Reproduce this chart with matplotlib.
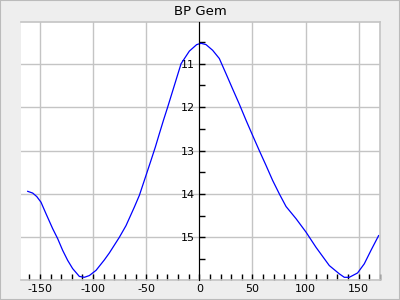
import matplotlib
matplotlib.use('Agg')
import matplotlib.pyplot as plt
from matplotlib.ticker import MultipleLocator

# Light curve values
phase = [-161.5, -156.8, -153, -149, -144.2, -138, -133.3, -128.6, -123.9, -119.2,
         -112.9, -108.2, -103.5, -97.2, -89.4, -84.7, -75.3, -69, -61.1, -56.4,
         -49.6, -45.4, -41.4, -37.6, -33.6, -29.8, -23.5, -17.2, -9.4, -2.5,
         1.6, 6.3, 12.5, 18.8, 25.1, 31.3, 37.6, 43.9, 50.1, 56.4,
         62.7, 69, 75.3, 81.6, 91, 100.4, 109.8, 122.3, 131.7, 136.4,
         141.1, 148.9, 155.2, 161.5, 168.7]
mag = [13.94, 13.98, 14.06, 14.19, 14.46, 14.80, 15.03, 15.30, 15.53, 15.72,
       15.90, 15.92, 15.88, 15.76, 15.52, 15.36, 15.00, 14.73, 14.30, 14.03,
       13.53, 13.22, 12.92, 12.61, 12.29, 12.00, 11.50, 11.00, 10.71, 10.56,
       10.53, 10.56, 10.69, 10.88, 11.23, 11.58, 11.93, 12.30, 12.65, 13.00,
       13.34, 13.69, 14.00, 14.29, 14.57, 14.88, 15.23, 15.65, 15.84, 15.92,
       15.92, 15.82, 15.61, 15.30, 14.96]
title = 'BP Gem'

plt.rcParams['axes.unicode_minus'] = False
grey = '#c4c4c4'

fig = plt.figure(figsize=(4, 3), dpi=100, facecolor='#eeeeee')
# thin frame around the whole figure
fig.patches.append(plt.Rectangle((0, 0), 1, 1, transform=fig.transFigure,
                                 fill=False, edgecolor='#bbbbbb', lw=1.5))
ax = fig.add_axes([0.052, 0.067, 0.898, 0.861])
ax.set_facecolor('white')

ax.plot(phase, mag, color='blue', lw=0.9)

ax.set_xlim(-168, 170)
ax.set_ylim(15.98, 10.03)

ax.xaxis.set_major_locator(MultipleLocator(50))
ax.xaxis.set_minor_locator(MultipleLocator(10))
ax.yaxis.set_major_locator(MultipleLocator(1))
ax.yaxis.set_minor_locator(MultipleLocator(0.5))

ax.grid(True, which='major', color=grey, lw=1)
ax.set_axisbelow(True)

# y axis sits on phase 0
ax.spines['left'].set_position(('data', 0))
ax.spines['left'].set_color('black')
ax.spines['left'].set_zorder(3)
for s in ['top', 'right', 'bottom']:
    ax.spines[s].set_color(grey)
    ax.spines[s].set_linewidth(1.2)

ax.tick_params(axis='both', which='both', direction='in', length=4.5, width=1,
               color='black', labelsize=8)
ax.tick_params(axis='x', pad=3)
ax.tick_params(axis='y', pad=3)
for lab in ax.get_yticklabels():
    lab.set_horizontalalignment('right')

ax.set_title(title, fontsize=9.5, pad=5)

plt.savefig('out.png', dpi=100, facecolor=fig.get_facecolor())
